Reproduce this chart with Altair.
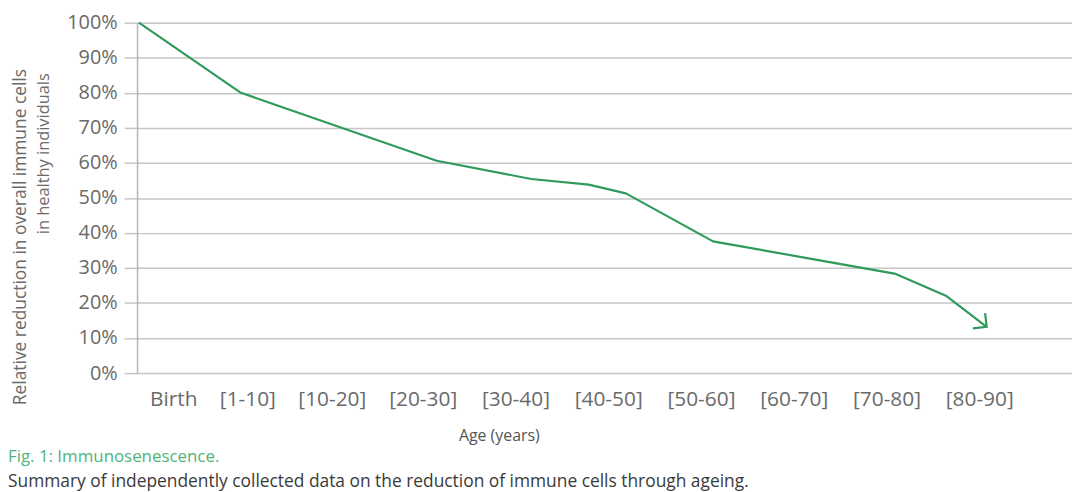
import json
import altair as alt
import pandas as pd

# ---- data ----
age_pos = [-0.06, 1.04, 3.15, 4.17, 4.79, 5.19, 6.13, 7.19, 8.10, 8.64, 9.08]
reduction = [100.0, 80.0, 60.6, 55.4, 53.8, 51.3, 37.6, 32.6, 28.3, 22.1, 13.2]
tick_labels = ["Birth", "[1-10]", "[10-20]", "[20-30]", "[30-40]", "[40-50]",
               "[50-60]", "[60-70]", "[70-80]", "[80-90]"]
tick_pos = [0.31, 1.11, 2.02, 3, 4, 5, 6, 7, 8, 9]
y_ticks = [0, 10, 20, 30, 40, 50, 60, 70, 80, 90, 100]

y_title_1 = "Relative reduction in overall immune cells"
y_title_2 = "in healthy individuals"
x_title = "Age (years)"
caption_1 = "Fig. 1: Immunosenescence."
caption_2 = "Summary of independently collected data on the reduction of immune cells through ageing."

FONT = "Open Sans"
GREEN = "#2f9a5c"
GRID = "#c6c6c6"
LABEL = "#6a6a6a"

df = pd.DataFrame({"age": age_pos, "reduction": reduction})
tip = df.tail(1)

label_expr = (json.dumps(tick_labels) + "[indexof(" + json.dumps(tick_pos) + ", datum.value)]")

x_scale = alt.Scale(domain=[-0.08, 10.0], nice=False, zero=False)
y_scale = alt.Scale(domain=[0, 100], nice=False)

x_axis = alt.Axis(values=tick_pos, labelExpr=label_expr, title=None, grid=False,
                  domain=False, ticks=False, labelFontSize=21, labelColor=LABEL,
                  labelFont=FONT, labelPadding=16, labelBaseline="top",
                  labelOverlap=False, tickCount=30)
y_axis = alt.Axis(values=y_ticks, labelExpr="datum.value + '%'", title=None, grid=True,
                  gridColor=GRID, gridWidth=1.5, domain=True, domainColor="#b4b4b4",
                  domainWidth=1.5, ticks=True, tickSize=13, tickColor=GRID,
                  tickWidth=1.5, labelFontSize=20, labelColor=LABEL, labelFont=FONT,
                  labelPadding=7, labelOverlap=False, labelFlush=False, tickCount=30)

base = alt.Chart(df)
line = base.mark_line(color=GREEN, strokeWidth=2.2, strokeJoin="round").encode(
    x=alt.X("age:Q", scale=x_scale, axis=x_axis),
    y=alt.Y("reduction:Q", scale=y_scale, axis=y_axis),
)
arrow = alt.Chart(tip).mark_point(
    shape="M -1 -1 L 0 0 L -1 1", size=392, angle=38.6, filled=False,
    color=GREEN, strokeWidth=2.2, opacity=1,
).encode(x=alt.X("age:Q", scale=x_scale), y=alt.Y("reduction:Q", scale=y_scale))


def txt(text, x, y, size, color, align="center", angle=0):
    return alt.Chart(pd.DataFrame({"t": [text]})).mark_text(
        align=align, baseline="middle", fontSize=size, color=color, font=FONT,
        angle=angle,
    ).encode(x=alt.value(x), y=alt.value(y), text="t:N")


layers = [
    line,
    arrow,
    txt(y_title_1, -117, 216, 17.5, LABEL, angle=270),
    txt(y_title_2, -94, 132, 16.5, LABEL, angle=270),
    txt(x_title, 365, 416, 16, "#555555"),
    txt(caption_1, -130, 438, 17, "#4fb47c", align="left"),
    txt(caption_2, -130, 463, 17.5, "#3a3a3a", align="left"),
]

chart = alt.layer(*layers).properties(
    width=942, height=353,
    autosize=alt.AutoSizeParams(type="none"),
    padding={"left": 130, "top": 13, "right": 0, "bottom": 118},
).configure_view(strokeWidth=0).configure(font=FONT)

chart.save("out.html", embed_options={"renderer": "svg", "actions": False})
